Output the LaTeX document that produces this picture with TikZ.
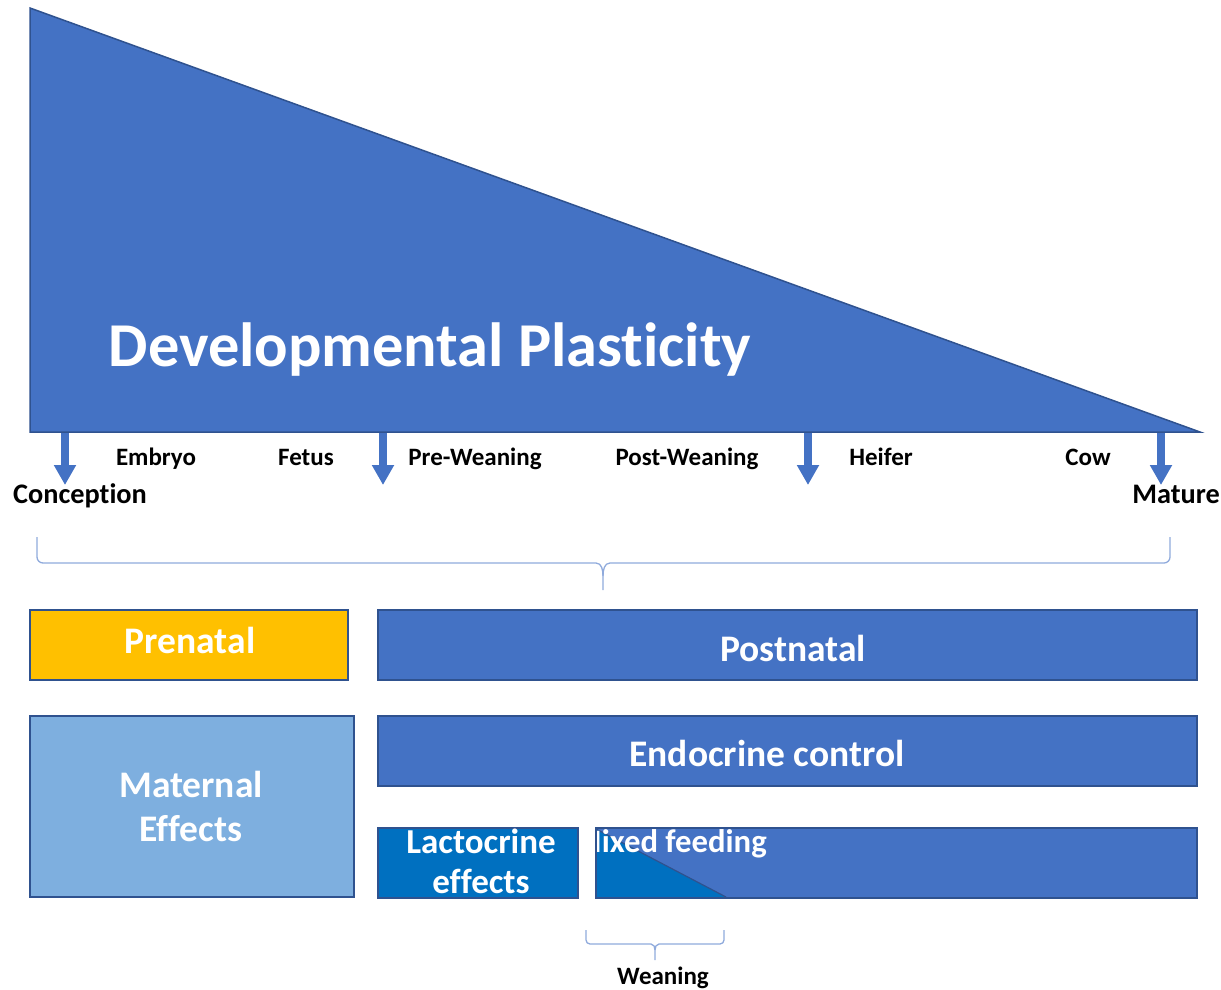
\documentclass[tikz,border=0pt]{standalone}
\usepackage{fontspec}
\setmainfont{Carlito}[Ligatures=NoCommon]
\usetikzlibrary{arrows.meta}
\definecolor{mainblue}{HTML}{4472C4}
\definecolor{edgeblue}{HTML}{2F528F}
\definecolor{gold}{HTML}{FFC000}
\definecolor{lightblue}{HTML}{7EAFDF}
\definecolor{deepblue}{HTML}{0070C0}
\definecolor{bracecol}{HTML}{8FAADC}
\tikzset{
  box/.style={draw=edgeblue, line width=1.5pt},
  boxtext/.style={text=white, font=\bfseries\fontsize{37.5}{44}\selectfont, inner sep=0pt, align=center},
  lbl/.style={text=black, font=\bfseries\fontsize{25}{28}\selectfont, inner sep=0pt, anchor=base},
  biglbl/.style={text=black, font=\bfseries\fontsize{28.3}{31}\selectfont, inner sep=0pt, anchor=base},
  downarrow/.style={draw=mainblue, line width=8pt, -{Triangle[width=21pt,length=20pt]}},
  bracestyle/.style={draw=bracecol, line width=1.3pt}
}
\begin{document}
\begin{tikzpicture}[x=1pt,y=-1pt]
\useasboundingbox (0,0) rectangle (1221,989);
% triangle
\filldraw[fill=mainblue, draw=edgeblue, line width=1.5pt] (30,8) -- (30,432) -- (1200,432) -- cycle;
\node[text=white, font=\bfseries\fontsize{62.4}{70}\selectfont, inner sep=0pt, anchor=base] (dp) at (430,366) {Developmental Plasticity};
% arrows
\coordinate (a1s) at (65,433); \coordinate (a1e) at (65,485);
\coordinate (a2s) at (383,433); \coordinate (a2e) at (383,485);
\coordinate (a3s) at (808,433); \coordinate (a3e) at (808,485);
\coordinate (a4s) at (1161,433); \coordinate (a4e) at (1161,485);
\draw[downarrow] (a1s) -- (a1e);
\draw[downarrow] (a2s) -- (a2e);
\draw[downarrow] (a3s) -- (a3e);
\draw[downarrow] (a4s) -- (a4e);
% stage labels
\node[lbl] (embryo) at (156,465) {Embryo};
\node[lbl] (fetus) at (306,465) {Fetus};
\node[lbl] (prew) at (475,465) {Pre-Weaning};
\node[lbl] (postw) at (687,465) {Post-Weaning};
\node[lbl] (heifer) at (881,465) {Heifer};
\node[lbl] (cow) at (1088,465) {Cow};
\node[biglbl] (conc) at (80,503) {Conception};
\node[biglbl] (mature) at (1176,503) {Mature};
% big brace
\draw[bracestyle] (37,537) -- (37,557) to[out=-90,in=180] (43,563) -- (596,563) to[out=0,in=90] (603,576) -- (603,590);
\draw[bracestyle] (1170,537) -- (1170,557) to[out=-90,in=0] (1164,563) -- (610,563) to[out=180,in=90] (603,576);
% boxes
\filldraw[box, fill=gold] (30,610) rectangle (348,680);
\node[boxtext] (pre) at (190,640) {Prenatal};
\filldraw[box, fill=mainblue] (378,610) rectangle (1197,680);
\node[boxtext] (post) at (793,648) {Postnatal};
\filldraw[box, fill=lightblue] (30,716) rectangle (354,897);
\node[boxtext, font=\bfseries\fontsize{37.5}{44}\selectfont] (mat) at (191,806) {Maternal\\Effects};
\filldraw[box, fill=mainblue] (378,716) rectangle (1197,786);
\node[boxtext] (endo) at (767,753) {Endocrine control};
\filldraw[box, fill=deepblue] (378,828) rectangle (578,898);
\node[boxtext, font=\bfseries\fontsize{35}{40}\selectfont] (lact) at (481,861) {Lactocrine\\effects};
\filldraw[box, fill=mainblue] (596,828) rectangle (1197,898);
\fill[deepblue] (596,829) -- (726,897) -- (596,897) -- cycle;
\draw[edgeblue, line width=1.2pt] (596,829) -- (726,897);
\begin{scope}
\clip (596,828) rectangle (1197,898);
\node[boxtext, font=\bfseries\fontsize{32.7}{38}\selectfont, anchor=base east] (mixed) at (767,852) {Mixed feeding};
\end{scope}
\draw[box] (596,828) rectangle (1197,898);
% small brace
\draw[bracestyle] (586,930) -- (586,940) to[out=-90,in=180] (590,944) -- (651,944) to[out=0,in=90] (655,950) -- (655,960);
\draw[bracestyle] (724,930) -- (724,940) to[out=-90,in=0] (720,944) -- (659,944) to[out=180,in=90] (655,950);
\node[lbl] (wean) at (663,984) {Weaning};
\end{tikzpicture}
\end{document}
